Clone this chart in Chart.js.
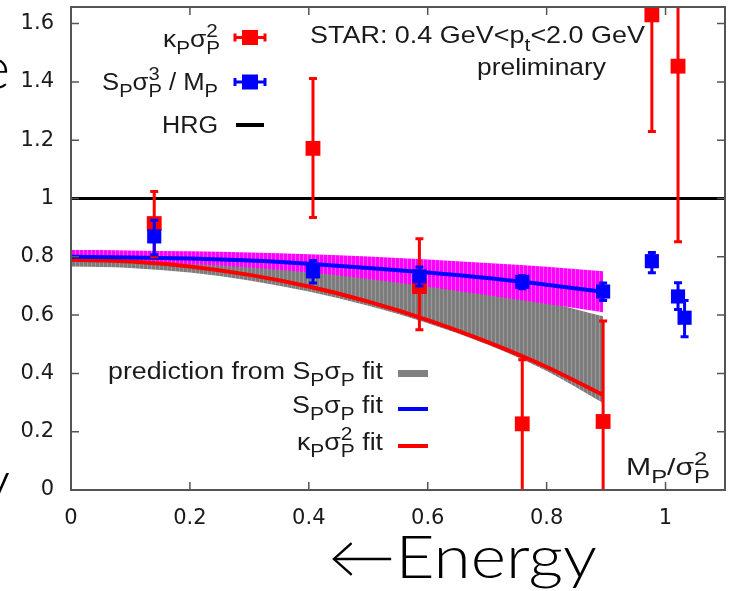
<!DOCTYPE html>
<html>
<head>
<meta charset="utf-8">
<script src="https://cdn.jsdelivr.net/npm/chart.js@4/dist/chart.umd.min.js"></script>
<style>
  html, body { margin: 0; padding: 0; background: #fff; }
</style>
</head>
<body>
<canvas id="c" width="730" height="591"></canvas>
<script>
// fit curves, sampled along M/sigma^2
const fitX = [0, 0.1, 0.2, 0.3, 0.4, 0.5, 0.6, 0.7, 0.8, 0.895];
const kappaFit = [0.790, 0.784, 0.767, 0.738, 0.698, 0.646, 0.583, 0.508, 0.422, 0.326];
const skewFit = [0.800, 0.798, 0.794, 0.787, 0.776, 0.762, 0.746, 0.727, 0.704, 0.680];
const skewBandHi = [0.823, 0.822, 0.819, 0.815, 0.809, 0.801, 0.791, 0.779, 0.766, 0.750];
const skewBandLo = [0.785, 0.782, 0.775, 0.763, 0.746, 0.724, 0.697, 0.668, 0.638, 0.610];
const predHi = [0.822, 0.819, 0.811, 0.797, 0.777, 0.752, 0.722, 0.687, 0.645, 0.596];
const predLo = [0.767, 0.762, 0.746, 0.719, 0.681, 0.632, 0.572, 0.499, 0.408, 0.298];

// STAR data points
const kappaX = [0.140, 0.407, 0.586, 0.759, 0.895, 0.977, 1.021];
const kappaY = [0.914, 1.172, 0.698, 0.227, 0.235, 1.630, 1.454];
const kappaLo = [0.800, 0.935, 0.550, -0.50, -0.30, 1.230, 0.852];
const kappaHi = [1.024, 1.412, 0.862, 0.447, 0.580, 2.100, 2.100];

const skewX = [0.140, 0.407, 0.586, 0.759, 0.895, 0.977, 1.021, 1.032];
const skewY = [0.870, 0.750, 0.733, 0.714, 0.681, 0.785, 0.664, 0.591];
const skewLo = [0.807, 0.710, 0.700, 0.690, 0.650, 0.745, 0.619, 0.526];
const skewHi = [0.925, 0.787, 0.765, 0.735, 0.710, 0.815, 0.711, 0.650];

const hrgX = [0, 1.1];
const hrgY = [1, 1];

const canvas = document.getElementById("c");
const ctx = canvas.getContext("2d");

function pts(xs, ys) {
    return xs.map((x, i) => ({ x: x, y: ys[i] }));
}

// striped fill like the gnuplot pattern
function stripes(base, light) {
    const t = document.createElement("canvas");
    t.width = 4; t.height = 4;
    const g = t.getContext("2d");
    g.fillStyle = base; g.fillRect(0, 0, 4, 4);
    g.fillStyle = light; g.fillRect(3, 0, 1, 4);
    return ctx.createPattern(t, "repeat");
}

const SANS = '"Liberation Sans", Arial, sans-serif';

function drawRich(c, parts, x, y, opt) {
    const size = opt.size;
    const fam = opt.family || SANS;
    const wt = opt.weight ? opt.weight + " " : "";
    const big = wt + size + "px " + fam;
    const small = wt + Math.round(size * 0.78) + "px " + fam;
    const segs = [];
    let w = 0;
    for (const p of parts) {
        if (p.t !== undefined) {
            c.font = big;
            segs.push({ t: p.t, font: big, dx: w, dy: 0 });
            w += c.measureText(p.t).width;
        } else {
            c.font = small;
            let mw = 0;
            if (p.sub) {
                segs.push({ t: p.sub, font: small, dx: w, dy: size * 0.32 });
                mw = Math.max(mw, c.measureText(p.sub).width);
            }
            if (p.sup) {
                segs.push({ t: p.sup, font: small, dx: w, dy: -size * 0.42 });
                mw = Math.max(mw, c.measureText(p.sup).width);
            }
            w += mw;
        }
    }
    const sx = opt.width ? opt.width / w : 1;
    const x0 = opt.align === "right" ? x - w * sx : x;
    c.save();
    c.fillStyle = opt.color || "#1a1a1a";
    c.textAlign = "left";
    c.textBaseline = "alphabetic";
    c.translate(x0, y);
    c.scale(sx, 1);
    for (const s of segs) {
        c.font = s.font;
        c.fillText(s.t, s.dx, s.dy);
    }
    c.restore();
}

const errorBars = {
    id: "errorBars",
    beforeDatasetDraw(chart, args) {
        const ds = chart.data.datasets[args.index];
        if (!ds.errLo) return;
        const c = chart.ctx, a = chart.chartArea;
        const xs = chart.scales.x, ys = chart.scales.y;
        c.save();
        c.beginPath();
        c.rect(a.left, a.top, a.right - a.left, a.bottom - a.top);
        c.clip();
        c.strokeStyle = ds.borderColor;
        c.lineWidth = 3;
        ds.data.forEach((p, i) => {
            const px = xs.getPixelForValue(p.x);
            const y1 = ys.getPixelForValue(ds.errLo[i]);
            const y2 = ys.getPixelForValue(ds.errHi[i]);
            c.beginPath();
            c.moveTo(px, y1); c.lineTo(px, y2);
            c.moveTo(px - 4, y1); c.lineTo(px + 4, y1);
            c.moveTo(px - 4, y2); c.lineTo(px + 4, y2);
            c.stroke();
        });
        c.restore();
    }
};

const frame = {
    id: "frame",
    afterDatasetsDraw(chart) {
        const c = chart.ctx, a = chart.chartArea;
        const xs = chart.scales.x, ys = chart.scales.y;
        c.save();
        c.strokeStyle = "#555";
        c.lineWidth = 2;
        c.strokeRect(a.left, a.top, a.right - a.left, a.bottom - a.top);
        c.lineWidth = 1.5;
        c.beginPath();
        xs.ticks.forEach(t => {
            const px = xs.getPixelForValue(t.value);
            c.moveTo(px, a.bottom); c.lineTo(px, a.bottom - 8);
            c.moveTo(px, a.top); c.lineTo(px, a.top + 8);
        });
        ys.ticks.forEach(t => {
            const py = ys.getPixelForValue(t.value);
            c.moveTo(a.left, py); c.lineTo(a.left + 8, py);
            c.moveTo(a.right, py); c.lineTo(a.right - 8, py);
        });
        c.stroke();
        c.restore();
    }
};

function markSample(c, cx, cy, color) {
    c.save();
    c.strokeStyle = color;
    c.fillStyle = color;
    c.lineWidth = 3;
    c.beginPath();
    c.moveTo(cx - 15, cy); c.lineTo(cx + 15, cy);
    c.moveTo(cx - 15, cy - 4); c.lineTo(cx - 15, cy + 4);
    c.moveTo(cx + 15, cy - 4); c.lineTo(cx + 15, cy + 4);
    c.stroke();
    c.fillRect(cx - 8, cy - 7.5, 16, 15);
    c.restore();
}

function lineSample(c, x1, x2, y, color, w) {
    c.save();
    c.strokeStyle = color;
    c.lineWidth = w;
    c.beginPath();
    c.moveTo(x1, y); c.lineTo(x2, y);
    c.stroke();
    c.restore();
}

const annotations = {
    id: "annotations",
    afterDraw(chart) {
        const c = chart.ctx;
        // key, top left
        drawRich(c, [{ t: "κ" }, { sub: "P" }, { t: "σ" }, { sub: "P", sup: "2" }], 220, 47, { align: "right", size: 23, width: 57 });
        drawRich(c, [{ t: "S" }, { sub: "P" }, { t: "σ" }, { sub: "P", sup: "3" }, { t: " / M" }, { sub: "P" }], 218, 90, { align: "right", size: 23, width: 116 });
        drawRich(c, [{ t: "HRG" }], 218, 133, { align: "right", size: 23, width: 56 });
        markSample(c, 250, 37.5, "#ff0000");
        markSample(c, 250, 82, "#0000ff");
        lineSample(c, 236, 264, 125, "#000", 4);

        drawRich(c, [{ t: "STAR: 0.4 GeV<p" }, { sub: "t" }, { t: "<2.0 GeV" }], 310, 43, { size: 24, width: 335 });
        drawRich(c, [{ t: "preliminary" }], 606, 75, { align: "right", size: 24, width: 129 });

        // key, bottom left
        drawRich(c, [{ t: "prediction from S" }, { sub: "P" }, { t: "σ" }, { sub: "P" }, { t: " fit" }], 383, 379, { align: "right", size: 23, width: 275 });
        drawRich(c, [{ t: "S" }, { sub: "P" }, { t: "σ" }, { sub: "P" }, { t: " fit" }], 383, 413, { align: "right", size: 23, width: 91 });
        drawRich(c, [{ t: "κ" }, { sub: "P" }, { t: "σ" }, { sub: "P", sup: "2" }, { t: " fit" }], 383, 450, { align: "right", size: 23, width: 86 });
        lineSample(c, 398, 428, 373.5, "#808080", 7);
        lineSample(c, 398, 428, 409, "#0000ff", 4);
        lineSample(c, 398, 428, 446, "#ff0000", 4);

        drawRich(c, [{ t: "M" }, { sub: "P" }, { t: "/σ" }, { sub: "P", sup: "2" }], 626, 475, { size: 24, width: 84 });

        // slide text around the plot
        const big = { size: 60, weight: 300, family: 'Lato, "DejaVu Sans", sans-serif', color: "#000" };
        drawRich(c, [{ t: "←Energy" }], 328, 578, Object.assign({ width: 269 }, big));
        drawRich(c, [{ t: "e" }], 10, 89, Object.assign({ align: "right" }, big));
        drawRich(c, [{ t: "y" }], 10, 503, Object.assign({ align: "right" }, big));
    }
};

const tickFont = { family: '"DejaVu Sans", sans-serif', size: 21 };

new Chart(ctx, {
    type: "line",
    data: {
        datasets: [
            {
                label: "S/M",
                data: pts(skewX, skewY),
                showLine: false,
                pointStyle: "rect",
                pointRadius: 10,
                pointBorderWidth: 0,
                backgroundColor: "#0000ff",
                borderColor: "#0000ff",
                errLo: skewLo,
                errHi: skewHi,
                clip: 0,
                order: 0
            },
            {
                label: "kappa",
                data: pts(kappaX, kappaY),
                showLine: false,
                pointStyle: "rect",
                pointRadius: 10.5,
                pointBorderWidth: 0,
                backgroundColor: "#ff0000",
                borderColor: "#ff0000",
                errLo: kappaLo,
                errHi: kappaHi,
                clip: 0,
                order: 1
            },
            {
                label: "HRG",
                data: pts(hrgX, hrgY),
                borderColor: "#000",
                borderWidth: 3,
                pointRadius: 0,
                clip: 0,
                order: 2
            },
            {
                label: "S fit",
                data: pts(fitX, skewFit),
                borderColor: "#0000ff",
                borderWidth: 4,
                pointRadius: 0,
                cubicInterpolationMode: "monotone",
                clip: 0,
                order: 3
            },
            {
                label: "kappa fit",
                data: pts(fitX, kappaFit),
                borderColor: "#ff0000",
                borderWidth: 4,
                pointRadius: 0,
                cubicInterpolationMode: "monotone",
                clip: 0,
                order: 4
            },
            {
                label: "S band hi",
                data: pts(fitX, skewBandHi),
                borderWidth: 0,
                pointRadius: 0,
                cubicInterpolationMode: "monotone",
                fill: "+1",
                backgroundColor: stripes("#ff00ff", "#ff55ff"),
                clip: 0,
                order: 5
            },
            {
                label: "S band lo",
                data: pts(fitX, skewBandLo),
                borderWidth: 0,
                pointRadius: 0,
                cubicInterpolationMode: "monotone",
                clip: 0,
                order: 5
            },
            {
                label: "prediction hi",
                data: pts(fitX, predHi),
                borderWidth: 0,
                pointRadius: 0,
                cubicInterpolationMode: "monotone",
                fill: "+1",
                backgroundColor: stripes("#7c7c7c", "#9a9a9a"),
                clip: 0,
                order: 6
            },
            {
                label: "prediction lo",
                data: pts(fitX, predLo),
                borderWidth: 0,
                pointRadius: 0,
                cubicInterpolationMode: "monotone",
                clip: 0,
                order: 6
            }
        ]
    },
    options: {
        responsive: false,
        animation: false,
        devicePixelRatio: 1,
        layout: { autoPadding: false, padding: { top: 7, right: 5, left: 0, bottom: 0 } },
        plugins: {
            legend: { display: false },
            tooltip: { enabled: false }
        },
        scales: {
            x: {
                type: "linear",
                min: 0,
                max: 1.1,
                grid: { display: false, drawTicks: false },
                border: { display: false },
                ticks: {
                    stepSize: 0.2,
                    includeBounds: false,
                    maxRotation: 0,
                    padding: 16,
                    font: tickFont,
                    color: "#1a1a1a",
                    callback: v => String(+v.toFixed(2))
                },
                afterFit: s => {
                    s.height = 101;
                    s.paddingLeft = 0;
                    s.paddingRight = 0;
                }
            },
            y: {
                type: "linear",
                min: 0,
                max: 1.657,
                grid: { display: false, drawTicks: false },
                border: { display: false },
                ticks: {
                    stepSize: 0.2,
                    includeBounds: false,
                    padding: 17,
                    font: tickFont,
                    color: "#1a1a1a",
                    callback: v => String(+v.toFixed(2))
                },
                afterFit: s => {
                    s.width = 71;
                    s.paddingTop = 0;
                    s.paddingBottom = 0;
                }
            }
        }
    },
    plugins: [errorBars, frame, annotations]
});
</script>
</body>
</html>
